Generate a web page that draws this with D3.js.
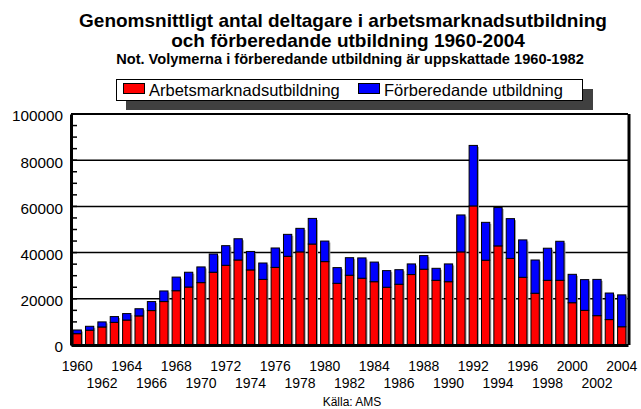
<!DOCTYPE html>
<html>
<head>
<meta charset="utf-8">
<script src="https://cdn.jsdelivr.net/npm/d3@7"></script>
<style>
  body { margin: 0; background: #fff; }
  text { font-family: "Liberation Sans", Arial, sans-serif; }
</style>
</head>
<body>
<div id="chart"></div>
<script>
// years 1960-2004
const years = d3.range(1960, 2005);

// Arbetsmarknadsutbildning (red, bottom)
const arbetsmarknad = [
  4900, 6400, 7800, 9800, 10800, 12600, 14900, 18800, 23500, 25100,
  27000, 31500, 34500, 36800, 32500, 28400, 33600, 38400, 40300, 43700,
  36100, 26700, 30200, 28900, 27400, 25000, 26300, 30500, 32800, 28000,
  27400, 40300, 60200, 36700, 42900, 37500, 29300, 22400, 28000, 28000,
  18300, 15000, 12700, 11000, 7900
];

// Förberedande utbildning (blue, top)
const forberedande = [
  1600, 1700, 2200, 2500, 2800, 3100, 3900, 4600, 5900, 6400,
  6800, 7900, 8500, 9200, 8000, 7100, 8400, 9500, 10200, 11100,
  8900, 6800, 7600, 8800, 8500, 7200, 6300, 4600, 5900, 5200,
  7700, 16000, 26200, 16400, 16600, 17200, 16200, 14400, 13900, 16900,
  12300, 13300, 15700, 11500, 13800
];

const yTicks = [0, 20000, 40000, 60000, 80000, 100000];
const xTickYears = d3.range(1960, 2005, 2);

const seriesNames = ["Arbetsmarknadsutbildning", "Förberedande utbildning"];
const colors = ["#ff0000", "#0000ff"];

const svgWidth = 641;
const svgHeight = 409;
const margin = { top: 114, right: 13, bottom: 64, left: 71 };
const width = svgWidth - margin.left - margin.right;
const height = svgHeight - margin.top - margin.bottom;

const svg = d3.select("#chart").append("svg")
    .attr("width", svgWidth)
    .attr("height", svgHeight);

// titles
svg.append("text")
    .attr("x", 343).attr("y", 27)
    .attr("text-anchor", "middle")
    .attr("font-size", 19).attr("font-weight", "bold")
    .text("Genomsnittligt antal deltagare i arbetsmarknadsutbildning");
svg.append("text")
    .attr("x", 348).attr("y", 47)
    .attr("text-anchor", "middle")
    .attr("font-size", 19).attr("font-weight", "bold")
    .text("och förberedande utbildning 1960-2004");
svg.append("text")
    .attr("x", 350).attr("y", 64)
    .attr("text-anchor", "middle")
    .attr("font-size", 14.6).attr("font-weight", "bold")
    .text("Not. Volymerna i förberedande utbildning är uppskattade 1960-1982");

// legend
const legend = svg.append("g");
legend.append("rect")
    .attr("x", 126).attr("y", 89)
    .attr("width", 467).attr("height", 21)
    .attr("fill", "#404040");
legend.append("rect")
    .attr("x", 116.5).attr("y", 79.5)
    .attr("width", 466).attr("height", 21)
    .attr("fill", "#fff").attr("stroke", "#000");

const legendX = [123, 358];
seriesNames.forEach((name, i) => {
  legend.append("rect")
      .attr("x", legendX[i] + 0.5).attr("y", 83.5)
      .attr("width", 21).attr("height", 10)
      .attr("fill", colors[i]).attr("stroke", "#000");
  legend.append("text")
      .attr("x", legendX[i] + 26).attr("y", 95.5)
      .attr("font-size", 16.5)
      .text(name);
});

const g = svg.append("g")
    .attr("transform", `translate(${margin.left},${margin.top})`);

const x = d3.scaleBand()
    .domain(years)
    .range([0, width])
    .paddingInner(0.33)
    .paddingOuter(0.17);

const y = d3.scaleLinear()
    .domain([0, 100000])
    .range([height, 0]);

// gridlines
g.append("g")
    .selectAll("line")
    .data(yTicks.slice(1, -1))
    .enter().append("line")
    .attr("x1", 0).attr("x2", width)
    .attr("y1", d => y(d)).attr("y2", d => y(d))
    .attr("stroke", "#000").attr("stroke-width", 1.5);

// minor ticks (inward)
g.append("g")
    .selectAll("line")
    .data(d3.range(0, 100001, 5000))
    .enter().append("line")
    .attr("x1", 0).attr("x2", 6)
    .attr("y1", d => y(d)).attr("y2", d => y(d))
    .attr("stroke", "#000").attr("stroke-width", 1.5);

// stacked bars
const rows = years.map((yr, i) => ({ year: yr, a: arbetsmarknad[i], f: forberedande[i] }));
const stacked = d3.stack().keys(["a", "f"])(rows);

// bar shadows
g.append("g")
    .selectAll("rect")
    .data(rows)
    .enter().append("rect")
    .attr("x", d => x(d.year) + 1.5)
    .attr("y", d => y(d.a + d.f) + 1.5)
    .attr("width", x.bandwidth())
    .attr("height", d => height - y(d.a + d.f) - 1.5)
    .attr("fill", "#a0a0a0");

g.selectAll(".series")
    .data(stacked)
    .enter().append("g")
    .attr("class", "series")
    .attr("fill", (d, i) => colors[i])
    .selectAll("rect")
    .data(d => d)
    .enter().append("rect")
    .attr("x", d => x(d.data.year))
    .attr("y", d => y(d[1]))
    .attr("width", x.bandwidth())
    .attr("height", d => y(d[0]) - y(d[1]))
    .attr("stroke", "#000")
    .attr("stroke-width", 1);

// frame
g.append("line").attr("x1", 0).attr("x2", width).attr("y1", 0).attr("y2", 0)
    .attr("stroke", "#000").attr("stroke-width", 2);
g.append("line").attr("x1", width + 1).attr("x2", width + 1).attr("y1", 0).attr("y2", height)
    .attr("stroke", "#000").attr("stroke-width", 3);

// y axis
const yAxis = g.append("g")
    .call(d3.axisLeft(y).tickValues(yTicks).tickSize(0).tickPadding(8).tickFormat(d3.format("d")));
yAxis.select(".domain").attr("stroke", "#000").attr("stroke-width", 3);
yAxis.selectAll("text")
    .attr("font-size", 15.3)
    .attr("dy", "0.45em")
    .attr("fill", "#000");

// x axis
const xAxis = g.append("g")
    .attr("transform", `translate(0,${height})`)
    .call(d3.axisBottom(x).tickValues(xTickYears).tickSize(0).tickPadding(0));
xAxis.select(".domain").attr("stroke", "#000").attr("stroke-width", 3);
xAxis.selectAll("text")
    .attr("font-size", 14)
    .attr("fill", "#000")
    .attr("dy", d => (d % 4 === 0) ? "0" : "17")
    .attr("y", 26);

// source
svg.append("text")
    .attr("x", 352).attr("y", 406)
    .attr("text-anchor", "middle")
    .attr("font-size", 12)
    .text("Källa: AMS");
</script>
</body>
</html>
